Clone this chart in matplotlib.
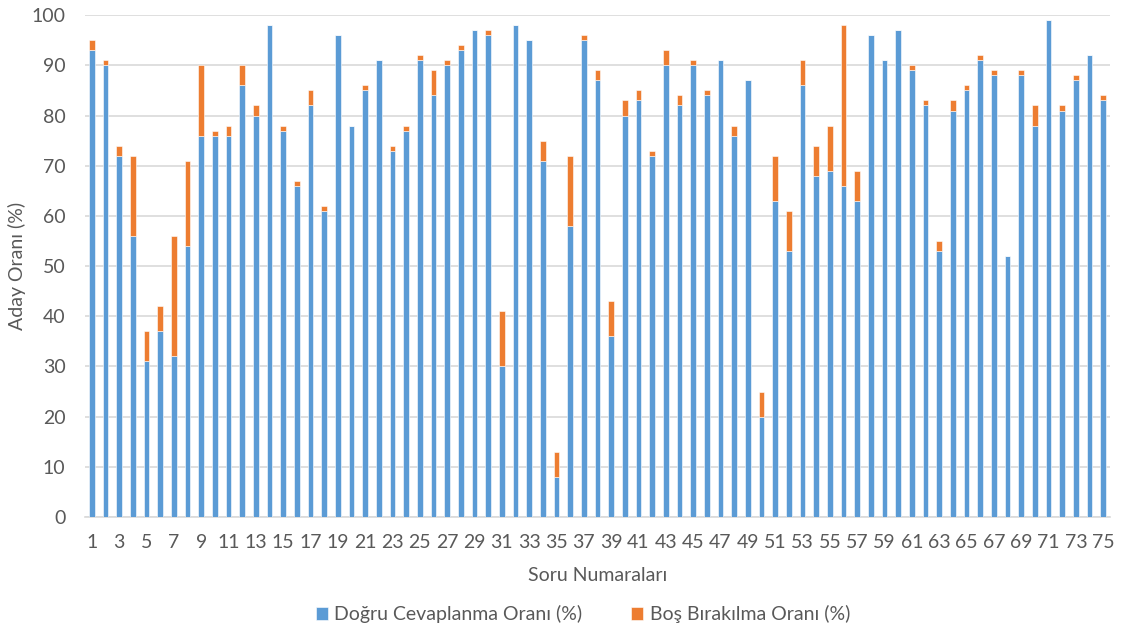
import numpy as np
import matplotlib.pyplot as plt

# soru numaralari 1..75
sorular = list(range(1, 76))

# dogru cevaplanma orani (%)
dogru = [93, 90, 72, 56, 31, 37, 32, 54, 76, 76,
         76, 86, 80, 98, 77, 66, 82, 61, 96, 78,
         85, 91, 73, 77, 91, 84, 90, 93, 97, 96,
         30, 98, 95, 71, 8, 58, 95, 87, 36, 80,
         83, 72, 90, 82, 90, 84, 91, 76, 87, 20,
         63, 53, 86, 68, 69, 66, 63, 96, 91, 97,
         89, 82, 53, 81, 85, 91, 88, 52, 88, 78,
         99, 81, 87, 92, 83]

# bos birakilma orani (%)
bos = [2, 1, 2, 16, 6, 5, 24, 17, 14, 1,
       2, 4, 2, 0, 1, 1, 3, 1, 0, 0,
       1, 0, 1, 1, 1, 5, 1, 1, 0, 1,
       11, 0, 0, 4, 5, 14, 1, 2, 7, 3,
       2, 1, 3, 2, 1, 1, 0, 2, 0, 5,
       9, 8, 5, 6, 9, 32, 6, 0, 0, 0,
       1, 1, 2, 2, 1, 1, 1, 0, 1, 4,
       0, 1, 1, 0, 1]

mavi = '#5B9BD5'
turuncu = '#ED7D31'
yazi = '#595959'

plt.rcParams['font.family'] = ['Lato', 'DejaVu Sans']
fs = 14

fig = plt.figure(figsize=(11.21, 6.32), dpi=100)
ax = fig.add_axes([0.0758, 0.182, 0.9144, 0.794])

x = np.array(sorular)
ax.bar(x, dogru, width=0.4, color=mavi, edgecolor='white', linewidth=0.4,
       label='Doğru Cevaplanma Oranı (%)', zorder=3)
ax.bar(x, bos, width=0.4, bottom=dogru, color=turuncu, edgecolor='white',
       linewidth=0.4, label='Boş Bırakılma Oranı (%)', zorder=3)

ax.set_xlim(0.5, 75.5)
ax.set_ylim(0, 100)
ax.set_yticks(np.arange(0, 101, 10))
ax.set_xticks(x[::2])
ax.set_xticklabels([str(s) for s in sorular[::2]])

ax.grid(axis='y', color='#d9d9d9', linewidth=1.2, zorder=0)
for s in ['top', 'right', 'left']:
    ax.spines[s].set_visible(False)
ax.spines['bottom'].set_color('#d9d9d9')
ax.spines['bottom'].set_linewidth(1.2)
ax.tick_params(axis='both', length=0, labelsize=fs, colors=yazi)
ax.tick_params(axis='x', pad=12)
ax.tick_params(axis='y', pad=14)

ax.set_xlabel('Soru Numaraları', fontsize=fs, color=yazi, labelpad=12)
ax.set_ylabel('Aday Oranı (%)', fontsize=fs, color=yazi, labelpad=4)

fig.legend(loc='center', bbox_to_anchor=(0.52, 0.028), ncol=2, frameon=False,
           fontsize=fs, labelcolor=yazi, handlelength=0.6, handleheight=0.6,
           columnspacing=2.5, handletextpad=0.35)

fig.savefig('out.png', dpi=100)
